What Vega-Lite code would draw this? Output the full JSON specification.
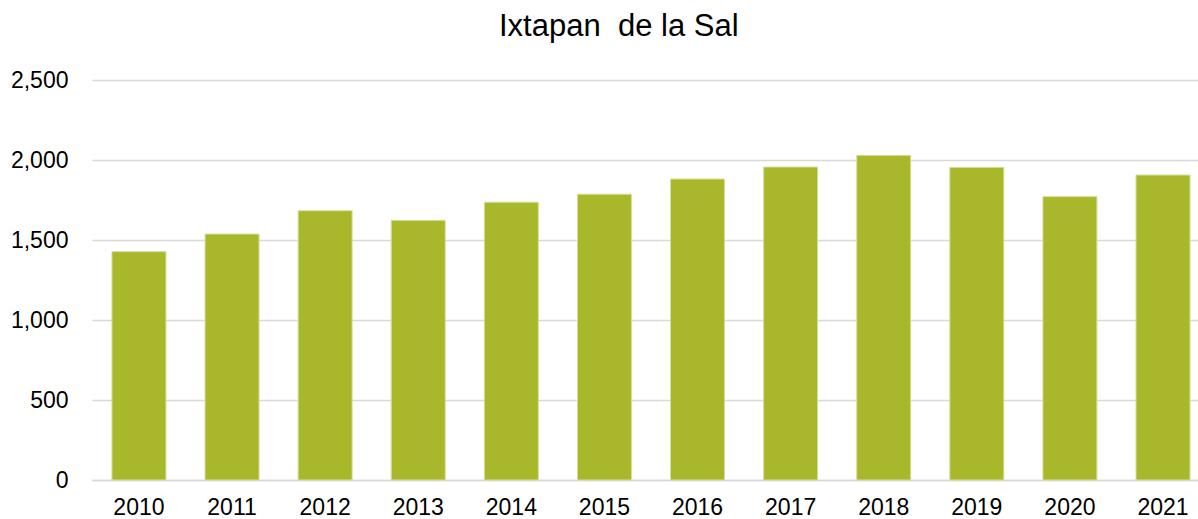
{
  "$schema": "https://vega.github.io/schema/vega-lite/v6.json",
  "autosize": "none",
  "width": 1106,
  "height": 400,
  "padding": {"left": 92, "top": 80, "right": 0, "bottom": 39},
  "background": "white",
  "title": {
    "text": "Ixtapan\u00a0 de la Sal",
    "anchor": "start",
    "frame": "group",
    "dx": 407,
    "fontSize": 31,
    "font": "Liberation Sans",
    "fontWeight": "normal",
    "color": "#000000",
    "offset": 26
  },
  "data": {
    "values": [
      {"year": "2010", "value": 1427},
      {"year": "2011", "value": 1537},
      {"year": "2012", "value": 1683},
      {"year": "2013", "value": 1623},
      {"year": "2014", "value": 1736},
      {"year": "2015", "value": 1786},
      {"year": "2016", "value": 1881},
      {"year": "2017", "value": 1956},
      {"year": "2018", "value": 2029},
      {"year": "2019", "value": 1954},
      {"year": "2020", "value": 1771},
      {"year": "2021", "value": 1906}
    ]
  },
  "mark": {"type": "bar", "color": "#A8B82A", "stroke": "#D6DE9C", "strokeWidth": 1},
  "encoding": {
    "x": {
      "field": "year",
      "type": "nominal",
      "sort": null,
      "scale": {"paddingInner": 0.42, "paddingOuter": 0.15, "align": 0.714},
      "axis": {
        "title": null,
        "labelAngle": 0,
        "labelFont": "Liberation Sans",
        "labelFontSize": 23,
        "labelColor": "#000000",
        "labelPadding": 16,
        "ticks": false,
        "domainColor": "#D9D9D9",
        "domainWidth": 1.5,
        "grid": false
      }
    },
    "y": {
      "field": "value",
      "type": "quantitative",
      "scale": {"domain": [0, 2500], "nice": false},
      "axis": {
        "title": null,
        "values": [0, 500, 1000, 1500, 2000, 2500],
        "format": ",.0f",
        "labelFont": "Liberation Sans",
        "labelFontSize": 23,
        "labelColor": "#000000",
        "labelPadding": 24,
        "ticks": false,
        "domain": false,
        "gridColor": "#D9D9D9",
        "gridWidth": 1.5
      }
    }
  },
  "config": {"view": {"stroke": null}}
}
